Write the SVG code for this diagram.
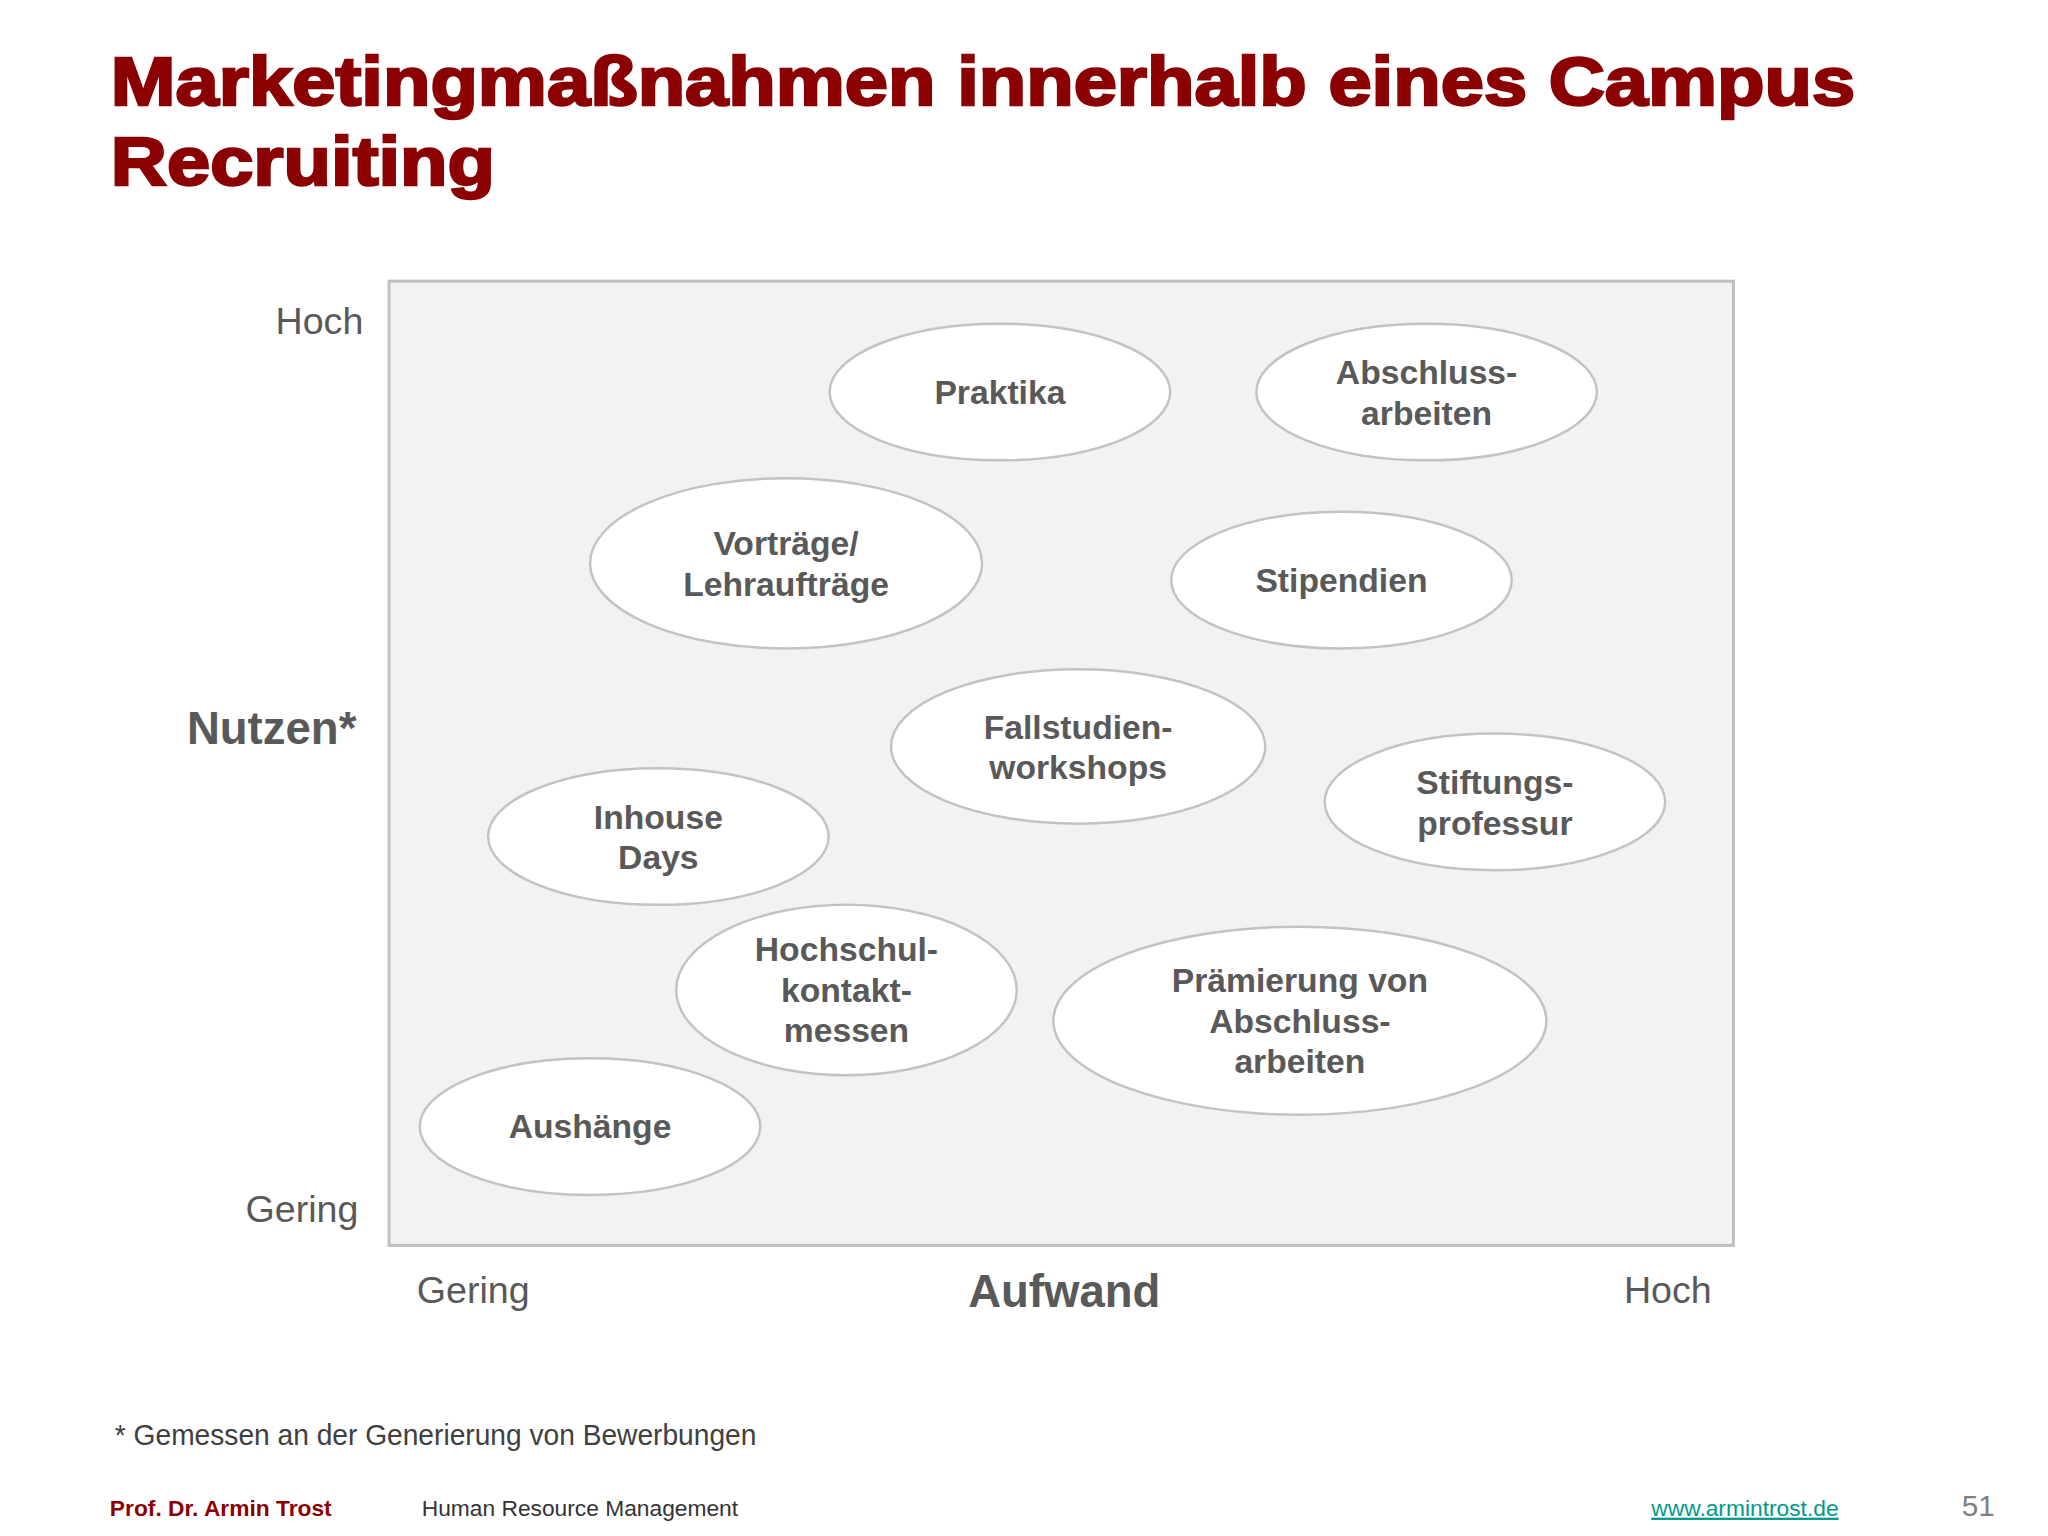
<svg xmlns="http://www.w3.org/2000/svg" width="2048" height="1536" viewBox="0 0 2048 1536">
<style>
.t{font-family:"Liberation Sans",Arial,sans-serif;font-weight:bold;fill:#8b0000;stroke:#8b0000;stroke-width:2.5;font-size:70px}
.e{fill:#ffffff;stroke:#c4c2c4;stroke-width:2.5}
.l{font-family:"Liberation Sans",Arial,sans-serif;font-weight:bold;fill:#595959;font-size:34px;text-anchor:middle}
.a{font-family:"Liberation Sans",Arial,sans-serif;fill:#595959;font-size:38px}
.ab{font-family:"Liberation Sans",Arial,sans-serif;font-weight:bold;fill:#595959;font-size:46px}
.f{font-family:"Liberation Sans",Arial,sans-serif}
</style>
<rect width="2048" height="1536" fill="#ffffff"/>
<g transform="scale(0.99)">
<text class="t" x="112" y="106" textLength="1762" lengthAdjust="spacingAndGlyphs">Marketingmaßnahmen innerhalb eines Campus</text>
<text class="t" x="112" y="187" textLength="388" lengthAdjust="spacingAndGlyphs">Recruiting</text>
<rect x="393" y="284" width="1358" height="974" fill="#f3f1f3" stroke="#c0c0c0" stroke-width="3"/>
<text class="a" x="367" y="337" text-anchor="end">Hoch</text>
<text class="ab" x="360" y="752" text-anchor="end">Nutzen*</text>
<text class="a" x="362" y="1234" text-anchor="end">Gering</text>
<text class="a" x="421" y="1316">Gering</text>
<text class="ab" x="1075" y="1320" text-anchor="middle">Aufwand</text>
<text class="a" x="1729" y="1316" text-anchor="end">Hoch</text>
<g id="connectors"/>
<g id="praktika"><ellipse class="e" cx="1010" cy="396" rx="172" ry="69"/><text class="l" x="1010" y="408">Praktika</text></g>
<g id="abschlussarbeiten"><ellipse class="e" cx="1441" cy="396" rx="172" ry="69"/><text class="l" x="1441" y="388">Abschluss-</text><text class="l" x="1441" y="429">arbeiten</text></g>
<g id="vortraege"><ellipse class="e" cx="794" cy="569" rx="198" ry="86"/><text class="l" x="794" y="561">Vorträge/</text><text class="l" x="794" y="602">Lehraufträge</text></g>
<g id="stipendien"><ellipse class="e" cx="1355" cy="586" rx="172" ry="69"/><text class="l" x="1355" y="598">Stipendien</text></g>
<g id="fallstudien"><ellipse class="e" cx="1089" cy="754" rx="189" ry="78"/><text class="l" x="1089" y="746">Fallstudien-</text><text class="l" x="1089" y="787">workshops</text></g>
<g id="stiftungsprofessur"><ellipse class="e" cx="1510" cy="810" rx="172" ry="69"/><text class="l" x="1510" y="802">Stiftungs-</text><text class="l" x="1510" y="843">professur</text></g>
<g id="inhouse"><ellipse class="e" cx="665" cy="845" rx="172" ry="69"/><text class="l" x="665" y="837">Inhouse</text><text class="l" x="665" y="878">Days</text></g>
<g id="hochschul"><ellipse class="e" cx="855" cy="1000" rx="172" ry="86"/><text class="l" x="855" y="971">Hochschul-</text><text class="l" x="855" y="1012">kontakt-</text><text class="l" x="855" y="1053">messen</text></g>
<g id="praemierung"><ellipse class="e" cx="1313" cy="1031" rx="249" ry="95"/><text class="l" x="1313" y="1002">Prämierung von</text><text class="l" x="1313" y="1043">Abschluss-</text><text class="l" x="1313" y="1084">arbeiten</text></g>
<g id="aushaenge"><ellipse class="e" cx="596" cy="1138" rx="172" ry="69"/><text class="l" x="596" y="1150">Aushänge</text></g>
<text class="f" x="116" y="1460" fill="#404040" font-size="29" textLength="648" lengthAdjust="spacingAndGlyphs">* Gemessen an der Generierung von Bewerbungen</text>
<text class="f" x="111" y="1531" fill="#8b0000" font-weight="bold" font-size="23">Prof. Dr. Armin Trost</text>
<text class="f" x="426" y="1531" fill="#333333" font-size="23">Human Resource Management</text>
<text class="f" x="1668" y="1531" fill="#009a8a" font-size="23" text-decoration="underline">www.armintrost.de</text>
<text class="f" x="2015" y="1531" fill="#808080" font-size="30" text-anchor="end">51</text>
</g>
</svg>
